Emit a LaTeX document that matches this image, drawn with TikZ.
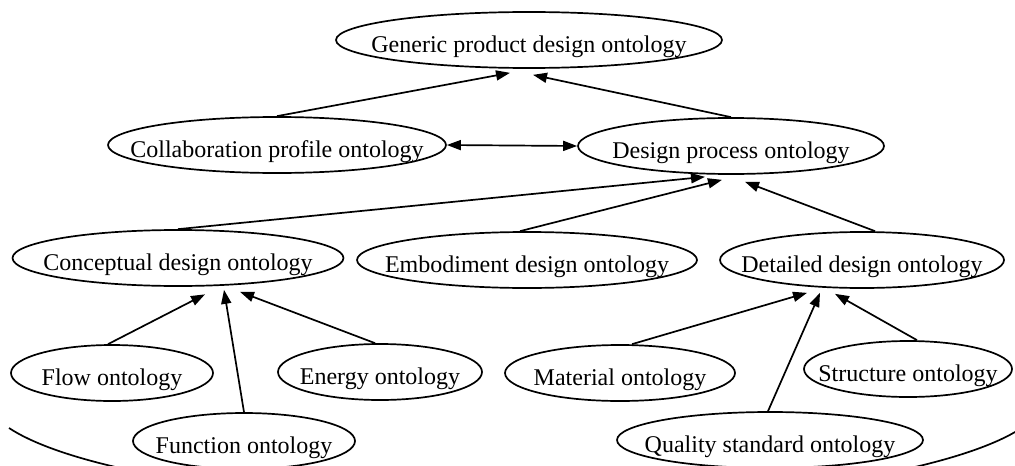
\documentclass[tikz,border=0pt]{standalone}
\usepackage{fontspec}
\setmainfont{Liberation Serif}
\usetikzlibrary{shapes.geometric}
\usetikzlibrary{arrows.meta}

\begin{document}
\begin{tikzpicture}[
      x=0.5pt, y=-0.5pt,
      onto/.style={draw, ellipse, minimum height=28pt, inner xsep=-25pt,
                   inner ysep=0pt, text height=14pt, text depth=1.5pt,
                   font=\fontsize{12}{14}\selectfont},
      >={Triangle[length=7pt,width=5pt]}, line width=0.85pt,
    ]
    \useasboundingbox (0,0) rectangle (1015,465);

    % top levels
    \node[onto, minimum width=193pt] (gen) at (529,40) {Generic product design ontology};
    \node[onto, minimum width=169pt] (collab) at (277,145) {Collaboration profile ontology};
    \node[onto, minimum width=153pt] (proc) at (731,146) {Design process ontology};

    % design stages
    \node[onto, minimum width=165.5pt] (concept) at (178,258) {Conceptual design ontology};
    \node[onto, minimum width=170pt] (embod) at (527,260) {Embodiment design ontology};
    \node[onto, minimum width=142pt] (detail) at (862,260) {Detailed design ontology};

    % leaves
    \node[onto, minimum width=101pt] (flow) at (112,373) {Flow ontology};
    \node[onto, minimum width=102pt] (energy) at (380,372) {Energy ontology};
    \node[onto, minimum width=111pt] (func) at (244,441) {Function ontology};
    \node[onto, minimum width=115pt] (mater) at (620,373) {Material ontology};
    \node[onto, minimum width=104pt] (struct) at (908,369) {Structure ontology};
    \node[onto, minimum width=153pt] (quality) at (770,440) {Quality standard ontology};

    \draw[->] (collab.north) -- ([xshift=-9.5pt, yshift=-2pt]gen.south);
    \draw[->] (proc.north) -- ([xshift=2pt, yshift=-3pt]gen.south);
    \draw[<->] (collab.east) -- (proc.west);

    \draw[->] (concept.north) -- ([xshift=-13pt, yshift=-1pt]proc.south);
    \draw[->] ([xshift=-3.5pt]embod.north) -- ([xshift=-4.5pt, yshift=-2.5pt]proc.south);
    \draw[->] ([xshift=6.5pt]detail.north) -- ([xshift=7pt, yshift=-3.5pt]proc.south);

    \draw[->] ([xshift=-2pt]flow.north) -- ([xshift=13.5pt, yshift=-3.75pt]concept.south);
    \draw[->] (func.north) -- ([xshift=23pt, yshift=-1.5pt]concept.south);
    \draw[->] ([xshift=-2.5pt]energy.north) -- ([xshift=31pt, yshift=-2.5pt]concept.south);

    \draw[->] ([xshift=6pt]mater.north) -- ([xshift=-27.5pt, yshift=-2pt]detail.south);
    \draw[->] ([xshift=-1pt]quality.north) -- ([xshift=-21pt, yshift=-2pt]detail.south);
    \draw[->] ([xshift=4.5pt]struct.north) -- ([xshift=-13.5pt, yshift=-2.5pt]detail.south);

    % outer boundary, cut by the frame
    \draw (9,428) arc[start angle=197.2, end angle=343, x radius=265pt, y radius=54pt];
\end{tikzpicture}
\end{document}
